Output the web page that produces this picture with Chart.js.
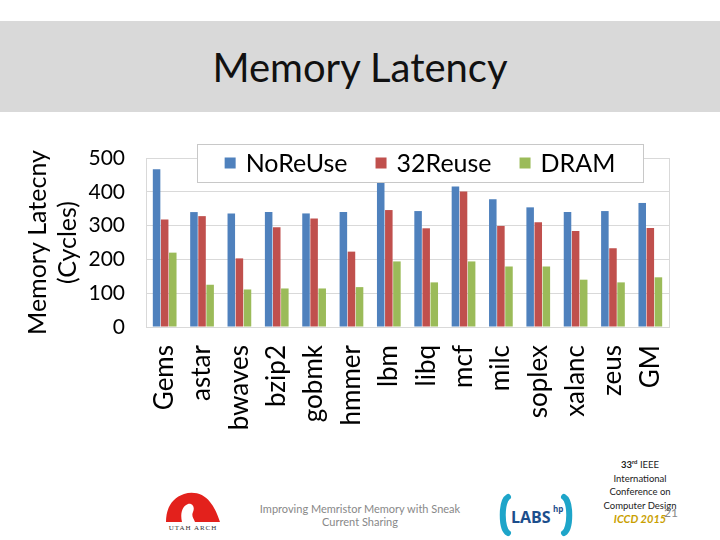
<!DOCTYPE html>
<html>
<head>
<meta charset="utf-8">
<script src="https://cdn.jsdelivr.net/npm/chart.js@4.4.1/dist/chart.umd.min.js"></script>
<style>
  body { margin: 0; background: #fff; }
  #slide { position: relative; width: 720px; height: 540px; overflow: hidden; background: #fff; font-family: Lato, "Open Sans", sans-serif; }
  #band { position: absolute; left: 0; top: 21px; width: 720px; height: 91px; background: #d9d9d9; }
  #title { position: absolute; left: 0; top: 43px; width: 720px; text-align: center; font-size: 40px; color: #111; line-height: 48px; }
  #chartBox { position: absolute; left: 0; top: 112px; width: 720px; height: 340px; }
  .foot { position: absolute; color: #888; font-size: 11px; text-align: center; line-height: 13px; }
  #conf { position: absolute; left: 590px; top: 455px; width: 100px; text-align: center; font-size: 9.5px; line-height: 13.5px; color: #222; }
  #conf .iccd { color: #c9a000; font-style: italic; font-weight: bold; font-size: 11px; }
  #page { position: absolute; left: 664px; top: 505px; font-size: 12px; color: #888; }
</style>
</head>
<body>
<div id="slide">
  <div id="band"></div>
  <div id="title">Memory Latency</div>
  <div id="chartBox"><canvas id="myChart" width="720" height="340"></canvas></div>

  <!-- Utah Arch logo -->
  <svg style="position:absolute;left:160px;top:488px" width="66" height="46">
    <path d="M6 34 C6 20 12 10 24 6 C34 3 44 6 50 14 C55 20 58 28 60 34 Z" fill="#e3211c"/>
    <path d="M22 34 C20 26 22 18 28 16 C33 15 35 20 33 24 C31 28 34 31 35 34 Z" fill="#fff"/>
    <text x="33" y="42" font-size="7" font-family="Liberation Serif" text-anchor="middle" fill="#333" letter-spacing="1">UTAH ARCH</text>
  </svg>

  <div class="foot" style="left:240px;top:502px;width:240px;">Improving Memristor Memory with Sneak<br>Current Sharing</div>

  <!-- LABS hp logo -->
  <svg style="position:absolute;left:497px;top:492px" width="78" height="46">
    <path d="M11 5 C4 9 4 37 11 41" stroke="#1ea5c9" stroke-width="6" fill="none" stroke-linecap="round"/>
    <path d="M67 5 C74 9 74 37 67 41" stroke="#1ea5c9" stroke-width="6" fill="none" stroke-linecap="round"/>
    <text x="14" y="31" font-size="16" font-weight="bold" font-family="Open Sans" fill="#1c4e8c">LABS</text>
    <text x="56" y="20" font-size="8" font-weight="bold" font-family="Open Sans" fill="#1c4e8c">hp</text>
  </svg>

  <div id="conf"><b>33<sup style="font-size:6px">rd</sup></b> IEEE<br>International<br>Conference on<br>Computer Design<br><span class="iccd">ICCD 2015</span></div>
  <div id="page">21</div>
</div>

<script>
const categories = ['Gems', 'astar', 'bwaves', 'bzip2', 'gobmk', 'hmmer', 'lbm', 'libq', 'mcf', 'milc', 'soplex', 'xalanc', 'zeus', 'GM'];
const noReUse = [467, 340, 336, 340, 336, 340, 445, 343, 416, 378, 354, 340, 343, 367];
const reuse32 = [318, 328, 203, 295, 321, 223, 346, 292, 401, 299, 310, 284, 233, 293];
const dram = [220, 125, 111, 114, 114, 118, 194, 132, 194, 179, 179, 140, 132, 147];
const yTicks = [0, 100, 200, 300, 400, 500];

// frame round the plot area
const frame = {
    id: 'frame',
    afterDatasetsDraw(chart) {
        const a = chart.chartArea, ctx = chart.ctx;
        ctx.save();
        ctx.strokeStyle = '#d9d9d9';
        ctx.lineWidth = 1;
        ctx.strokeRect(a.left + 0.5, a.top + 0.5, a.right - a.left, a.bottom - a.top);
        ctx.restore();
    }
};

// legend box drawn over the top of the plot, like the slide
const boxLegend = {
    id: 'boxLegend',
    afterDraw(chart) {
        const ctx = chart.ctx;
        const x0 = 197, y0 = 32, w = 446, h = 38;
        ctx.save();
        ctx.fillStyle = '#fff';
        ctx.fillRect(x0, y0, w, h);
        ctx.strokeStyle = '#c8c8c8';
        ctx.lineWidth = 1;
        ctx.strokeRect(x0 + 0.5, y0 + 0.5, w, h);
        ctx.font = '25px Lato';
        ctx.textBaseline = 'middle';
        const sq = 11, gap = 10, between = 28;
        const items = chart.data.datasets.map(d => ({ label: d.label, color: d.backgroundColor, tw: ctx.measureText(d.label).width }));
        let total = 0;
        items.forEach((it, i) => { total += sq + gap + it.tw + (i ? between : 0); });
        let x = x0 + (w - total) / 2;
        const cy = y0 + h / 2;
        items.forEach(it => {
            ctx.fillStyle = it.color;
            ctx.fillRect(x, cy - sq / 2, sq, sq);
            x += sq + gap;
            ctx.fillStyle = '#000';
            ctx.fillText(it.label, x, cy + 1);
            x += it.tw + between;
        });
        ctx.restore();
    }
};

const ctx = document.getElementById('myChart').getContext('2d');
new Chart(ctx, {
    type: 'bar',
    data: {
        labels: categories,
        datasets: [{
            label: 'NoReUse',
            data: noReUse,
            backgroundColor: '#4f81bd'
        }, {
            label: '32Reuse',
            data: reuse32,
            backgroundColor: '#c0504d'
        }, {
            label: 'DRAM',
            data: dram,
            backgroundColor: '#9bbb59'
        }]
    },
    options: {
        responsive: false,
        animation: false,
        devicePixelRatio: 1,
        categoryPercentage: 0.65,
        barPercentage: 0.93,
        layout: { padding: { top: 46, right: 51, left: 0, bottom: 0 } },
        scales: {
            x: {
                grid: { display: false },
                border: { color: '#d9d9d9' },
                afterFit: s => { s.height = 125; },
                ticks: {
                    color: '#000',
                    font: { family: 'Lato', size: 26 },
                    minRotation: 90,
                    maxRotation: 90,
                    padding: 10,
                    autoSkip: false
                }
            },
            y: {
                min: 0,
                max: 500,
                afterFit: s => { s.width = 146; },
                afterBuildTicks: s => { s.ticks = yTicks.map(v => ({ value: v })); },
                grid: { color: '#d9d9d9', drawTicks: false },
                border: { color: '#d9d9d9' },
                ticks: {
                    color: '#000',
                    font: { family: 'Lato', size: 21 },
                    padding: 21
                },
                title: {
                    display: true,
                    text: ['Memory Latecny', '(Cycles)'],
                    color: '#000',
                    font: { family: 'Lato', size: 25, lineHeight: 1.2 },
                    padding: { top: 23, bottom: 0 }
                }
            }
        },
        plugins: {
            legend: { display: false },
            tooltip: { enabled: false }
        }
    },
    plugins: [frame, boxLegend]
});
</script>
</body>
</html>
